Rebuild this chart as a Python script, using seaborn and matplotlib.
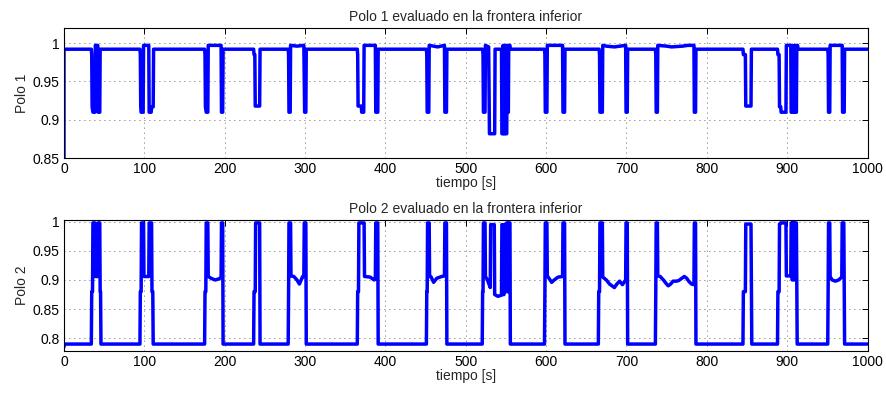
import matplotlib
matplotlib.use("Agg")
import matplotlib.pyplot as plt
import seaborn as sns
import numpy as np

# ---------------- data (breakpoints) ----------------
t1 = [0, 0,
      34, 34.5, 35, 36, 38.5, 39, 42, 42.5, 44.5, 45,
      94.5, 95, 95.5, 96, 98.5, 99, 105.5, 106, 108.5, 109, 111, 111.5,
      175, 175.5, 176, 177, 179, 179.5, 195.5, 196, 197.5, 198,
      236, 236.5, 237.5, 238, 243.5, 244,
      279, 279.5, 280, 281.5, 282, 290, 298.5, 299.5, 301, 301.5,
      365, 365.5, 366, 370, 370.5, 373, 373.5, 387.5, 388, 390.5, 391,
      451, 451.5, 452, 454, 454.5, 465, 473.5, 474, 476, 476.5,
      521, 521.5, 522, 524, 524.5, 528.5, 529.5, 536, 536.5, 544.5, 545, 546, 546.5,
      547, 548.5, 549, 549.5, 551, 551.5, 552, 553, 553.5, 555, 555.5,
      598, 598.5, 599, 601, 601.5, 620.5, 621, 623, 623.5,
      666, 666.5, 667, 670, 670.5, 675, 685, 692, 699, 699.5, 701, 701.5,
      736, 736.5, 737, 738.5, 739, 750, 756, 770, 776, 784, 784.5, 786, 786.5,
      845, 845.5, 848, 848.5, 855, 855.5,
      888, 888.5, 890, 890.5, 892, 892.5, 898.5, 899, 904.5, 905, 906, 906.5, 907,
      908.5, 909, 909.5, 911.5, 912, 913, 913.5,
      950.5, 951, 951.5, 953, 953.5, 968.5, 969, 971, 971.5,
      1000]
polo1 = [0.85, 0.992,
         0.992, 0.985, 0.917, 0.91, 0.91, 0.997, 0.997, 0.91, 0.91, 0.992,
         0.992, 0.985, 0.917, 0.91, 0.91, 0.997, 0.997, 0.91, 0.91, 0.917, 0.917, 0.992,
         0.992, 0.985, 0.917, 0.91, 0.91, 0.997, 0.997, 0.91, 0.91, 0.992,
         0.992, 0.985, 0.985, 0.918, 0.918, 0.992,
         0.992, 0.985, 0.91, 0.91, 0.997, 0.996, 0.997, 0.91, 0.91, 0.992,
         0.992, 0.985, 0.918, 0.918, 0.91, 0.91, 0.997, 0.997, 0.91, 0.91, 0.992,
         0.992, 0.985, 0.91, 0.91, 0.997, 0.995, 0.997, 0.91, 0.91, 0.992,
         0.992, 0.985, 0.91, 0.91, 0.997, 0.995, 0.882, 0.882, 0.992, 0.992, 0.882, 0.882, 0.997,
         0.882, 0.882, 0.997, 0.882, 0.882, 0.997, 0.91, 0.91, 0.997, 0.997, 0.992,
         0.992, 0.985, 0.91, 0.91, 0.997, 0.997, 0.91, 0.91, 0.992,
         0.992, 0.985, 0.91, 0.91, 0.997, 0.996, 0.995, 0.996, 0.997, 0.91, 0.91, 0.992,
         0.992, 0.985, 0.91, 0.91, 0.997, 0.996, 0.995, 0.996, 0.997, 0.997, 0.91, 0.91, 0.992,
         0.992, 0.985, 0.985, 0.918, 0.918, 0.992,
         0.992, 0.985, 0.985, 0.917, 0.917, 0.91, 0.91, 0.997, 0.997, 0.91, 0.91, 0.997, 0.91,
         0.91, 0.997, 0.91, 0.91, 0.997, 0.997, 0.992,
         0.992, 0.985, 0.91, 0.91, 0.997, 0.997, 0.91, 0.91, 0.992,
         0.992]

t2 = [0, 0.5,
      34, 34.5, 35.5, 36, 38.5, 39, 42, 42.5, 44.5, 45, 45.5, 46,
      94.5, 95, 96, 96.5, 99, 99.5, 105.5, 106, 109, 109.5, 110.5, 111,
      175, 175.5, 176.5, 177, 179, 179.5, 183, 188, 193, 195.5, 196, 197.5, 198,
      236, 236.5, 238, 238.5, 243.5, 244,
      279, 279.5, 280, 282, 282.5, 286, 290, 293, 297, 298.5, 299, 301, 301.5,
      365, 365.5, 366.5, 367, 373.5, 374, 381, 386, 387.5, 388, 390.5, 391,
      451, 451.5, 452, 452.5, 454.5, 455, 457, 460, 464, 470, 473.5, 474, 476, 476.5,
      520.5, 521, 521.5, 522, 524, 524.5, 527, 530.5, 531, 535.5, 536, 540, 544.5, 545,
      546, 546.5, 547.5, 548, 549, 549.5, 550.5, 551, 552, 552.5, 553.5, 554, 555, 555.5,
      598, 598.5, 599, 601, 601.5, 604, 607, 610, 615, 620.5, 621, 623, 623.5,
      665, 665.5, 666.5, 667, 670, 670.5, 675, 679, 682, 685, 688, 691.5, 695, 698, 699,
      699.5, 701, 701.5,
      736, 736.5, 737, 738.5, 739, 742, 746, 750, 752, 755, 758, 762, 765, 769, 772, 775,
      778, 781, 784, 784.5, 786, 786.5,
      845, 845.5, 848, 848.5, 855, 855.5, 856,
      888, 888.5, 890, 890.5, 892, 898.5, 899, 904.5, 905, 906, 906.5, 907, 908.5, 909,
      909.5, 911.5, 912, 912.5,
      950.5, 951, 951.5, 953, 953.5, 956, 960, 964, 968, 968.5, 970.5, 971, 971.5,
      1000]
polo2 = [0.785, 0.79,
         0.79, 0.88, 0.88, 0.998, 0.998, 0.906, 0.906, 0.998, 0.998, 0.88, 0.88, 0.79,
         0.79, 0.88, 0.88, 0.998, 0.998, 0.906, 0.906, 0.998, 0.998, 0.88, 0.88, 0.79,
         0.79, 0.88, 0.88, 0.998, 0.998, 0.906, 0.903, 0.9, 0.902, 0.905, 0.998, 0.998, 0.79,
         0.79, 0.88, 0.88, 0.998, 0.998, 0.79,
         0.79, 0.88, 0.998, 0.998, 0.907, 0.906, 0.9, 0.893, 0.906, 0.906, 0.998, 0.998, 0.79,
         0.79, 0.88, 0.88, 0.998, 0.998, 0.906, 0.905, 0.9, 0.902, 0.998, 0.998, 0.79,
         0.79, 0.88, 0.88, 0.998, 0.998, 0.906, 0.905, 0.896, 0.903, 0.906, 0.907, 0.998, 0.998, 0.79,
         0.79, 0.88, 0.88, 0.998, 0.998, 0.906, 0.9, 0.887, 0.995, 0.995, 0.875, 0.872, 0.874, 0.995,
         0.995, 0.875, 0.875, 0.995, 0.995, 0.88, 0.88, 0.998, 0.998, 0.88, 0.88, 0.998, 0.998, 0.79,
         0.79, 0.88, 0.998, 0.998, 0.907, 0.902, 0.896, 0.9, 0.905, 0.906, 0.998, 0.998, 0.79,
         0.79, 0.88, 0.88, 0.998, 0.998, 0.905, 0.9, 0.893, 0.89, 0.887, 0.893, 0.898, 0.892, 0.898, 0.898,
         0.998, 0.998, 0.79,
         0.79, 0.88, 0.998, 0.998, 0.907, 0.906, 0.9, 0.893, 0.89, 0.893, 0.898, 0.898, 0.899, 0.903, 0.906, 0.903,
         0.897, 0.893, 0.892, 0.998, 0.998, 0.79,
         0.79, 0.88, 0.88, 0.996, 0.996, 0.88, 0.79,
         0.79, 0.88, 0.88, 0.996, 0.998, 0.998, 0.907, 0.907, 0.998, 0.998, 0.9, 0.998, 0.998, 0.9,
         0.998, 0.998, 0.88, 0.79,
         0.79, 0.88, 0.998, 0.998, 0.906, 0.9, 0.898, 0.9, 0.905, 0.998, 0.998, 0.88, 0.79,
         0.79]

titles = ["Polo 1 evaluado en la frontera inferior", "Polo 2 evaluado en la frontera inferior"]
ylabels = ["Polo 1", "Polo 2"]
xticks = [0, 100, 200, 300, 400, 500, 600, 700, 800, 900, 1000]
yticks1 = [0.85, 0.9, 0.95, 1]
yticks2 = [0.8, 0.85, 0.9, 0.95, 1]
yticklabels1 = ["0.85", "0.9", "0.95", "1"]
yticklabels2 = ["0.8", "0.85", "0.9", "0.95", "1"]

# ---------------- figure ----------------
sns.set_style("white")
plt.rcParams["font.family"] = ["Liberation Sans", "DejaVu Sans"]
plt.rcParams["font.size"] = 10

fig = plt.figure(figsize=(8.86, 3.94), dpi=100)
ax1 = fig.add_axes([64 / 886, 1 - 158.3 / 394, 803.5 / 886, 130.6 / 394])
ax2 = fig.add_axes([64 / 886, 1 - 350.7 / 394, 803.5 / 886, 130.7 / 394])

series = [(t1, polo1, (0.85, 1.02), yticks1, yticklabels1),
          (t2, polo2, (0.7786, 1.003), yticks2, yticklabels2)]

for ax, (t, v, ylim, yt, ytl), title, ylab in zip([ax1, ax2], series, titles, ylabels):
    sns.lineplot(x=np.array(t, dtype=float), y=np.array(v, dtype=float), ax=ax,
                 estimator=None, sort=False, color="#0000ff", linewidth=2.5)
    ax.set_xlim(0, 1000)
    ax.set_ylim(*ylim)
    ax.set_xticks(xticks)
    ax.set_xticklabels([str(x) for x in xticks])
    ax.set_yticks(yt)
    ax.set_yticklabels(ytl)
    ax.grid(True, linestyle=(0, (1, 5)), color="#333333", linewidth=0.6)
    ax.tick_params(direction="in", top=True, right=True, length=4, width=0.7,
                   labelsize=10, pad=3, colors="black")
    for s in ax.spines.values():
        s.set_color("black")
        s.set_linewidth(0.8)
    ax.set_title(title, fontsize=10, pad=5)
    ax.set_xlabel("tiempo [s]", fontsize=10, labelpad=0)
    ax.set_ylabel(ylab, fontsize=10, labelpad=3)

fig.savefig("out.png", dpi=100)
